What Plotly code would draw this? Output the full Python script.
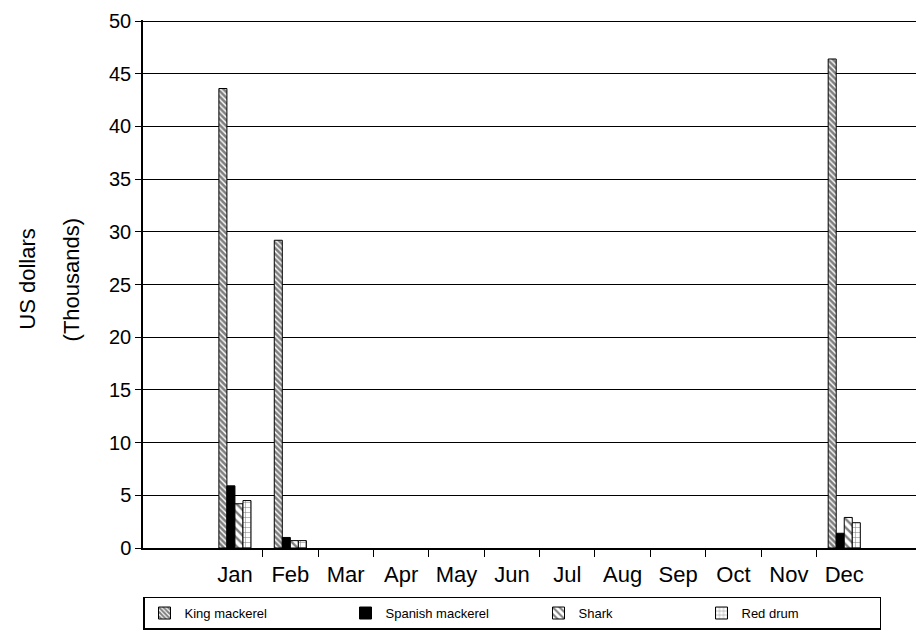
import plotly.graph_objects as go

# Monthly landings value, thousands of US dollars
months = ['Jan', 'Feb', 'Mar', 'Apr', 'May', 'Jun', 'Jul', 'Aug', 'Sep', 'Oct', 'Nov', 'Dec']
king_mackerel = [43.6, 29.2, 0, 0, 0, 0, 0, 0, 0, 0, 0, 46.4]
spanish_mackerel = [5.9, 1.0, 0, 0, 0, 0, 0, 0, 0, 0, 0, 1.4]
shark = [4.2, 0.7, 0, 0, 0, 0, 0, 0, 0, 0, 0, 2.9]
red_drum = [4.5, 0.7, 0, 0, 0, 0, 0, 0, 0, 0, 0, 2.4]
y_ticks = [0, 5, 10, 15, 20, 25, 30, 35, 40, 45, 50]

x_pos = list(range(len(months)))
boundaries = [i + 0.5 for i in range(len(months) - 1)]

FONT = 'Liberation Sans, Arial, sans-serif'


def outline(values):
    # no outline on empty bars, so they don't thicken the axis line
    return dict(color='black', width=[1 if v else 0 for v in values])


fig = go.Figure()

fig.add_trace(go.Bar(
    x=x_pos, y=king_mackerel, name='King mackerel',
    marker=dict(color='white', line=outline(king_mackerel),
                pattern=dict(shape='\\', size=4, solidity=0.65, fgcolor='black', bgcolor='white')),
    legendwidth=156
))
fig.add_trace(go.Bar(
    x=x_pos, y=spanish_mackerel, name='Spanish mackerel',
    marker=dict(color='black', line=outline(spanish_mackerel)),
    legendwidth=148
))
fig.add_trace(go.Bar(
    x=x_pos, y=shark, name='Shark',
    marker=dict(color='white', line=outline(shark),
                pattern=dict(shape='\\', size=6, solidity=0.4, fgcolor='black', bgcolor='white')),
    legendwidth=118
))
fig.add_trace(go.Bar(
    x=x_pos, y=red_drum, name='Red drum',
    marker=dict(color='white', line=outline(red_drum),
                pattern=dict(shape='+', size=5, solidity=0.2, fgcolor='black', bgcolor='white')),
    legendwidth=133
))

# page has an 8px body margin, so the figure is sized to fit the window
fig.update_layout(
    width=916, height=628,
    margin=dict(l=135, r=0, t=12, b=88),
    paper_bgcolor='white', plot_bgcolor='white',
    font=dict(family=FONT, color='black', size=18),
    barmode='group', bargap=0.42, bargroupgap=0,
    xaxis=dict(
        range=[-1.66, 12.44], automargin=False,
        tickmode='array', tickvals=x_pos, ticktext=months,
        ticks='', showgrid=False, zeroline=False,
        showline=True, linecolor='black', linewidth=1.5,
        tickfont=dict(size=22), ticklabelstandoff=6,
        minor=dict(tickmode='array', tickvals=boundaries, ticks='outside',
                   ticklen=7, tickcolor='black', showgrid=False)
    ),
    yaxis=dict(
        range=[0, 50.1], tickmode='array', tickvals=y_ticks, automargin=False,
        ticks='outside', ticklen=6, tickcolor='black', ticklabeloverflow='allow',
        showline=True, linecolor='black', linewidth=1.5,
        showgrid=True, gridcolor='black', gridwidth=1,
        zeroline=False, tickfont=dict(size=20)
    ),
    legend=dict(
        orientation='h', x=0, xanchor='left', y=-0.092, yanchor='top',
        bordercolor='black', borderwidth=1.5, bgcolor='white',
        font=dict(size=13), itemwidth=30, traceorder='normal'
    ),
    annotations=[
        dict(text='US dollars', xref='paper', yref='paper', x=-0.148, y=0.509,
             textangle=-90, showarrow=False, font=dict(size=22),
             xanchor='center', yanchor='middle'),
        dict(text='(Thousands)', xref='paper', yref='paper', x=-0.092, y=0.509,
             textangle=-90, showarrow=False, font=dict(size=22),
             xanchor='center', yanchor='middle'),
    ]
)

fig.write_html("out.html")
